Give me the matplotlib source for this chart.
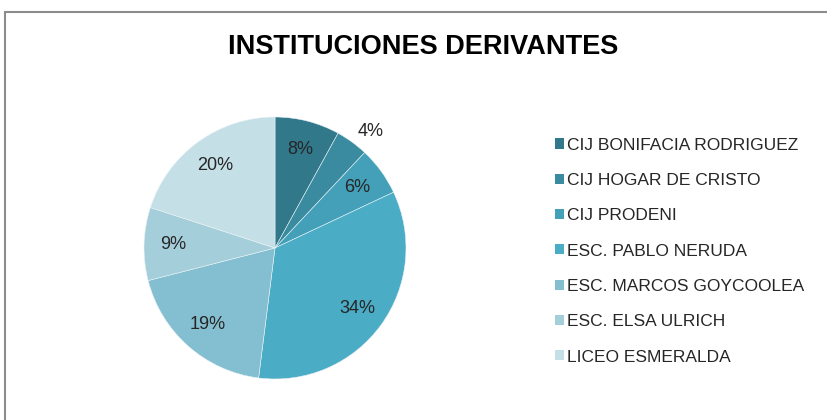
import matplotlib.pyplot as plt
from matplotlib.patches import Rectangle

plt.rcParams['font.family'] = ['Liberation Sans', 'DejaVu Sans']

categories = ["CIJ BONIFACIA RODRIGUEZ", "CIJ HOGAR DE CRISTO", "CIJ PRODENI",
              "ESC. PABLO NERUDA", "ESC. MARCOS GOYCOOLEA", "ESC. ELSA ULRICH",
              "LICEO ESMERALDA"]
values = [8, 4, 6, 34, 19, 9, 20]
colors = ["#31788A", "#3A8BA0", "#43A0B8", "#4BACC6", "#84BFD1", "#A5CEDB", "#C5DFE7"]

W, H = 828, 420
fig = plt.figure(figsize=(W / 100, H / 100), dpi=100)

# chart frame (gray border, runs off right/bottom)
fig.patches.append(Rectangle((5 / W, -0.1), 1.2, (H - 12) / H + 0.1, transform=fig.transFigure,
                             fill=False, edgecolor="#8c8c8c", linewidth=1.5))

cx, cy, r = 275, 248, 131
ax = fig.add_axes([(cx - r) / W, (H - cy - r) / H, 2 * r / W, 2 * r / H])
wedges, texts, autotexts = ax.pie(values, colors=colors, startangle=90, counterclock=False,
                                  autopct='%d%%', pctdistance=0.78, radius=1,
                                  wedgeprops=dict(linewidth=0.4, edgecolor="#e8f2f5"),
                                  textprops=dict(fontsize=13, color="#262626"))
ax.set_xlim(-1, 1)
ax.set_ylim(-1, 1)
ax.set_aspect('equal')
ax.axis('off')

# small slice label sits outside
t = autotexts[1]
x, y = t.get_position()
t.set_position((x * 1.16 / 0.78 + 0.05, y * 1.16 / 0.78 - 0.05))

fig.text(423 / W, 1 - 47 / H, "INSTITUCIONES DERIVANTES", ha='center', va='center',
         fontsize=19.5, fontweight='bold', color="#000000")

handles = [Rectangle((0, 0), 1, 1, facecolor=c, edgecolor='none') for c in colors]
fig.legend(handles, categories, loc='upper left', bbox_to_anchor=(539 / W, 1 - 122 / H),
           frameon=False, fontsize=12.5, handlelength=0.52, handleheight=0.52,
           handletextpad=0.2, labelspacing=1.17, labelcolor="#262626")

fig.savefig("out.png", dpi=100)
